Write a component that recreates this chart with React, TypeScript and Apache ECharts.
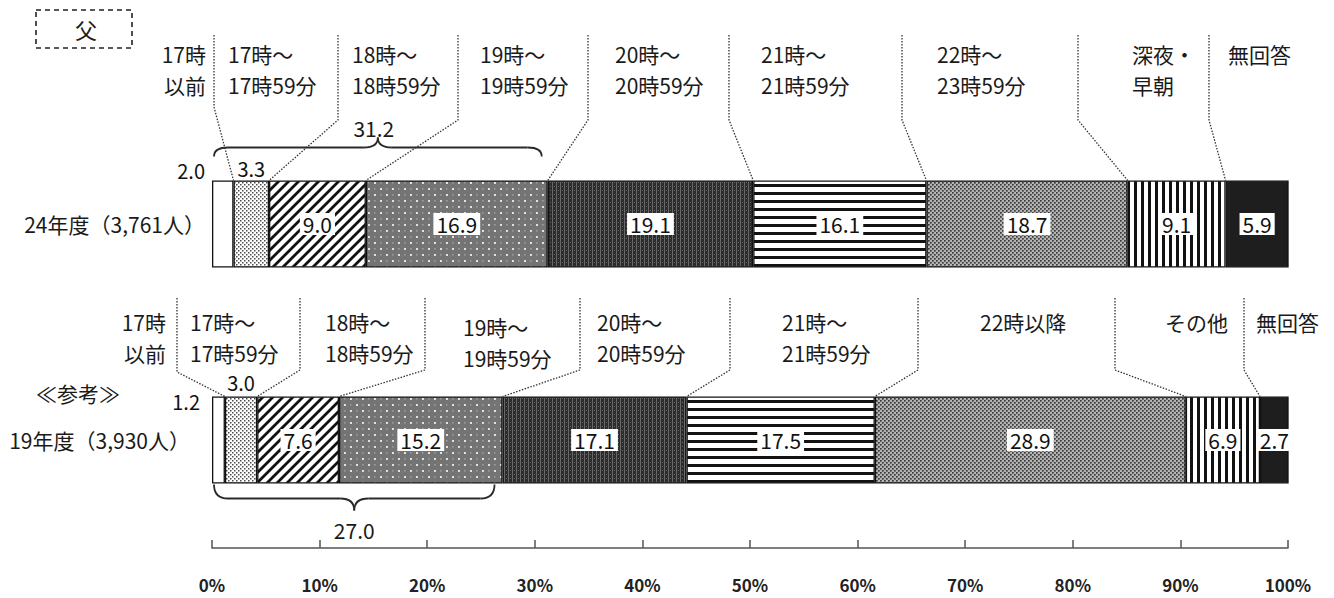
import React, { useEffect, useRef } from "react";
import * as echarts from "echarts";

const FONT = '"Noto Sans CJK JP", "Noto Sans", sans-serif';

// ---------------- data ----------------
const panelTitle = "父";
const referenceMark = "≪参考≫";
const rowLabels = ["24年度（3,761人）", "19年度（3,930人）"];
const topCategories = [
  "17時\n以前",
  "17時～\n17時59分",
  "18時～\n18時59分",
  "19時～\n19時59分",
  "20時～\n20時59分",
  "21時～\n21時59分",
  "22時～\n23時59分",
  "深夜・\n早朝",
  "無回答",
];
const bottomCategories = [
  "17時\n以前",
  "17時～\n17時59分",
  "18時～\n18時59分",
  "19時～\n19時59分",
  "20時～\n20時59分",
  "21時～\n21時59分",
  "22時以降",
  "その他",
  "無回答",
];
const values24 = [2.0, 3.3, 9.0, 16.9, 19.1, 16.1, 18.7, 9.1, 5.9];
const values19 = [1.2, 3.0, 7.6, 15.2, 17.1, 17.5, 28.9, 6.9, 2.7];
const bracketTotals = [31.2, 27.0];

// ---------------- layout ----------------
const topHeaderX = [206, 228, 352, 480, 615, 761, 937, 1132, 1228];
const bottomHeaderX = [166, 190, 325, 463, 597, 782, 980, 1165, 1256];
const topSepX = [214, 338, 458, 588, 729, 902, 1078, 1209];
const bottomSepX = [177, 300, 425, 580, 730, 918, 1115, 1244];
const BAR_W = 87;
const HEADER_FS = 21;
const HEADER_LH = 30.5;

function tile(w: number, h: number, draw: (ctx: CanvasRenderingContext2D) => void): any {
  const c = document.createElement("canvas");
  c.width = w;
  c.height = h;
  const ctx = c.getContext("2d") as CanvasRenderingContext2D;
  draw(ctx);
  return { image: c.toDataURL(), repeat: "repeat", imageWidth: w, imageHeight: h };
}

function makePatterns(): any[] {
  const p0 = "#ffffff";
  const p1 = tile(4, 4, (ctx) => {
    ctx.fillStyle = "#ffffff";
    ctx.fillRect(0, 0, 4, 4);
    ctx.fillStyle = "#4a4a4a";
    ctx.fillRect(0, 0, 1.5, 1.5);
    ctx.fillRect(2, 2, 1.5, 1.5);
  });
  const p2 = tile(10, 10, (ctx) => {
    ctx.fillStyle = "#ffffff";
    ctx.fillRect(0, 0, 10, 10);
    ctx.strokeStyle = "#111";
    ctx.lineWidth = 2.8;
    ctx.beginPath();
    ctx.moveTo(-2, 12);
    ctx.lineTo(12, -2);
    ctx.moveTo(-7, 7);
    ctx.lineTo(7, -7);
    ctx.moveTo(3, 17);
    ctx.lineTo(17, 3);
    ctx.stroke();
  });
  const p3 = tile(12, 12, (ctx) => {
    ctx.fillStyle = "#747474";
    ctx.fillRect(0, 0, 12, 12);
    ctx.fillStyle = "#e2e2e2";
    ctx.fillRect(2, 2, 2, 2);
    ctx.fillRect(8, 8, 2, 2);
    ctx.fillStyle = "#a0a0a0";
    ctx.fillRect(8, 2, 1.5, 1.5);
    ctx.fillRect(2, 8, 1.5, 1.5);
  });
  const p4 = tile(4, 4, (ctx) => {
    ctx.fillStyle = "#2c2c2c";
    ctx.fillRect(0, 0, 4, 4);
    ctx.fillStyle = "#686868";
    ctx.fillRect(0, 0, 1, 4);
    ctx.fillRect(2, 2, 1, 1);
  });
  const p5 = tile(8, 8, (ctx) => {
    ctx.fillStyle = "#ffffff";
    ctx.fillRect(0, 0, 8, 8);
    ctx.fillStyle = "#111";
    ctx.fillRect(0, 0, 8, 3);
  });
  const p6 = tile(4, 4, (ctx) => {
    ctx.fillStyle = "#b4b4b4";
    ctx.fillRect(0, 0, 4, 4);
    ctx.fillStyle = "#3a3a3a";
    ctx.fillRect(0, 0, 1.7, 1.7);
    ctx.fillRect(2, 2, 1.7, 1.7);
  });
  const p7 = tile(7, 7, (ctx) => {
    ctx.fillStyle = "#ffffff";
    ctx.fillRect(0, 0, 7, 7);
    ctx.fillStyle = "#111";
    ctx.fillRect(0, 0, 3, 7);
  });
  const p8 = "#1e1e1e";
  return [p0, p1, p2, p3, p4, p5, p6, p7, p8];
}

function cum(vals: number[], n: number): number {
  let s = 0;
  for (let i = 0; i < n; i++) s += vals[i];
  return Math.round(s * 10) / 10;
}

function textEl(text: string, x: number, y: number, opts: any = {}): any {
  const align = opts.align || "left";
  const va = opts.verticalAlign || "middle";
  return {
    type: "text",
    x,
    y,
    z: 10,
    style: {
      text,
      fill: opts.fill || "#1a1a1a",
      fontSize: opts.fontSize || 21,
      fontFamily: FONT,
      fontWeight: opts.fontWeight || "normal",
      align,
      textAlign: align,
      verticalAlign: va,
      textVerticalAlign: va,
    },
  };
}

function headerEls(label: string, x: number, y1: number, align: string): any[] {
  return label
    .split("\n")
    .map((line, i) => textEl(line, x, y1 + i * HEADER_LH, { align, fontSize: HEADER_FS }));
}

function braceEls(xL: number, xR: number, yEnd: number, yMid: number, yPeak: number): any[] {
  const r = 14;
  const xC = (xL + xR) / 2;
  const st = { stroke: "#2a2a2a", lineWidth: 1.8, fill: "none" };
  return [
    { type: "bezierCurve", shape: { x1: xL, y1: yEnd, cpx1: xL, cpy1: yMid, x2: xL + r, y2: yMid }, style: st },
    { type: "line", shape: { x1: xL + r, y1: yMid, x2: xC - r, y2: yMid }, style: st },
    { type: "bezierCurve", shape: { x1: xC - r, y1: yMid, cpx1: xC, cpy1: yMid, x2: xC, y2: yPeak }, style: st },
    { type: "bezierCurve", shape: { x1: xC, y1: yPeak, cpx1: xC, cpy1: yMid, x2: xC + r, y2: yMid }, style: st },
    { type: "line", shape: { x1: xC + r, y1: yMid, x2: xR - r, y2: yMid }, style: st },
    { type: "bezierCurve", shape: { x1: xR - r, y1: yMid, cpx1: xR, cpy1: yMid, x2: xR, y2: yEnd }, style: st },
  ];
}

export default function App() {
  const ref = useRef<HTMLDivElement>(null);

  useEffect(() => {
    if (!ref.current) return;
    const chart = echarts.init(ref.current, undefined, { renderer: "svg" });
    const patterns = makePatterns();

    const series = values24.map((v, i) => {
      const vals = [v, values19[i]];
      const data = vals.map((val, r) => {
        let label: any;
        if (i === 0) {
          label = {
            show: true,
            position: "left",
            distance: r === 0 ? 7 : 12,
            offset: r === 0 ? [0, -54] : [0, -39],
            fontSize: 20,
          };
        } else if (i === 1) {
          label = { show: true, position: "top", distance: r === 0 ? 2 : 4, fontSize: 20 };
        } else {
          label = {
            show: true,
            position: "inside",
            backgroundColor: "#ffffff",
            padding: [1, 3, 0, 3],
          };
        }
        return { value: val, label };
      });
      return {
        type: "bar",
        name: topCategories[i].replace("\n", ""),
        stack: "total",
        barWidth: BAR_W,
        data,
        itemStyle: { color: patterns[i], borderColor: "#111", borderWidth: 1.3 },
        label: {
          show: true,
          color: "#111",
          fontSize: 21,
          fontFamily: FONT,
          formatter: (p: any) => Number(p.value).toFixed(1),
        },
        emphasis: { disabled: true },
      };
    });

    chart.setOption({
      animation: false,
      backgroundColor: "#ffffff",
      grid: { left: 212, right: 46, top: 116, bottom: 50, containLabel: false },
      xAxis: {
        type: "value",
        min: 0,
        max: 100,
        interval: 10,
        axisLine: { show: true, lineStyle: { color: "#555", width: 1.5 } },
        axisTick: { show: true, inside: true, length: 8, lineStyle: { color: "#555", width: 1.5 } },
        axisLabel: {
          formatter: "{value}%",
          margin: 28,
          fontSize: 17,
          fontWeight: "bold",
          color: "#222",
          fontFamily: FONT,
        },
        splitLine: { show: false },
      },
      yAxis: {
        type: "category",
        data: rowLabels,
        inverse: true,
        axisLine: { show: false },
        axisTick: { show: false },
        axisLabel: { show: false },
      },
      series,
    });

    const px = (v: number, r: number) => chart.convertToPixel({ gridIndex: 0 }, [v, r]) as number[];
    const g: any[] = [];

    // title box
    g.push({
      type: "rect",
      shape: { x: 36, y: 10, width: 96, height: 38 },
      style: { fill: "none", stroke: "#222", lineWidth: 1.6, lineDash: [5, 4] },
    });
    g.push(textEl(panelTitle, 86, 29, { align: "center", fontSize: 22 }));

    const rowsVals = [values24, values19];
    const yc = [px(0, 0)[1], px(0, 1)[1]];
    const tops = yc.map((y) => y - BAR_W / 2);
    const bottoms = yc.map((y) => y + BAR_W / 2);

    // row labels
    g.push(textEl(rowLabels[0], 205, yc[0], { align: "right" }));
    g.push(textEl(referenceMark, 120, yc[1] - 47, { align: "right" }));
    g.push(textEl(rowLabels[1], 190, yc[1], { align: "right" }));

    // header labels
    topCategories.forEach((t, k) => {
      g.push(...headerEls(t, topHeaderX[k], 54, k === 0 ? "right" : "left"));
    });
    bottomCategories.forEach((t, k) => {
      g.push(...headerEls(t, bottomHeaderX[k], k === 3 ? 327 : 322, k === 0 ? "right" : "left"));
    });

    // leader / separator lines
    const sepStyle = { stroke: "#333", lineWidth: 1.3, lineDash: [1.5, 1.5], fill: "none" };
    topSepX.forEach((sx, k) => {
      const xb = px(cum(rowsVals[0], k + 1), 0)[0];
      g.push({
        type: "polyline",
        shape: { points: [[sx, 35], [sx, k === 0 ? 107 : 120], [xb, tops[0]]] },
        style: sepStyle,
      });
    });
    bottomSepX.forEach((sx, k) => {
      const xb = px(cum(rowsVals[1], k + 1), 1)[0];
      g.push({
        type: "polyline",
        shape: { points: [[sx, 298], [sx, k === 0 ? 372 : 370], [xb, tops[1]]] },
        style: sepStyle,
      });
    });

    // braces
    const tL = px(0, 0)[0] + 2;
    const tR = px(bracketTotals[0], 0)[0] - 6;
    g.push(...braceEls(tL, tR, tops[0] - 24, tops[0] - 33, tops[0] - 43));
    g.push(textEl(bracketTotals[0].toFixed(1), (tL + tR) / 2 - 4, tops[0] - 53, { align: "center" }));

    const bL = px(0, 1)[0] + 2;
    const bR = px(bracketTotals[1], 1)[0] - 8;
    g.push(...braceEls(bL, bR, bottoms[1] + 1, bottoms[1] + 15, bottoms[1] + 27));
    g.push(textEl(bracketTotals[1].toFixed(1), (bL + bR) / 2, bottoms[1] + 46, { align: "center" }));

    chart.setOption({ graphic: { elements: g } });

    return () => {
      chart.dispose();
    };
  }, []);

  return (
    <div
      ref={ref}
      style={{ position: "fixed", left: 0, top: 0, width: 1334, height: 598, background: "#fff" }}
    />
  );
}
